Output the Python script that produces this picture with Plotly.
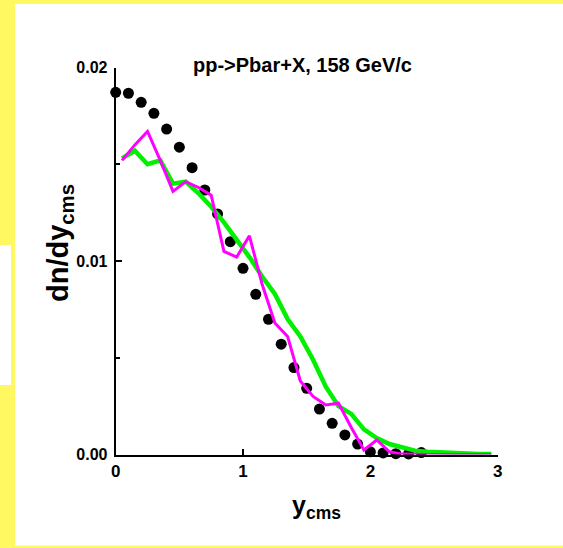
import plotly.graph_objects as go

# Rapidity distribution of antiprotons, pp -> Pbar + X at 158 GeV/c
y_data = [0.0, 0.1, 0.2, 0.3, 0.4, 0.5, 0.6, 0.7, 0.8, 0.9, 1.0, 1.1, 1.2,
          1.3, 1.4, 1.5, 1.6, 1.7, 1.8, 1.9, 2.0, 2.1, 2.2, 2.3, 2.4]
dndy_data = [0.01872, 0.01867, 0.0182, 0.01763, 0.01682, 0.01588, 0.01482,
             0.01367, 0.01243, 0.0110, 0.00962, 0.00828, 0.00699, 0.0057,
             0.00449, 0.00342, 0.00235, 0.00161, 0.00101, 0.00054, 0.00014,
             0.00008, 0.00004, 0.00003, 0.0001]

y_model = [0.05, 0.15, 0.25, 0.35, 0.45, 0.55, 0.65, 0.75, 0.85, 0.95,
           1.05, 1.15, 1.25, 1.35, 1.45, 1.55, 1.65, 1.75, 1.85, 1.95,
           2.05, 2.15, 2.25, 2.35, 2.45, 2.55, 2.65, 2.75, 2.85, 2.95]
dndy_green = [0.0153, 0.0157, 0.0150, 0.0152, 0.0140, 0.0141, 0.0135,
              0.0128, 0.0120, 0.0111, 0.0102, 0.0092, 0.0083, 0.0070,
              0.0061, 0.0049, 0.0035, 0.0025, 0.0021, 0.0013, 0.00085,
              0.00054, 0.00034, 0.0002, 0.00014, 0.0001, 0.00007, 0.00005,
              0.00003, 0.00002]
dndy_magenta = [0.0152, 0.0160, 0.0167, 0.0152, 0.0136, 0.0141, 0.0138,
                0.0134, 0.0105, 0.0102, 0.0113, 0.0088, 0.0068, 0.0061,
                0.0038, 0.0030, 0.00256, 0.00265, 0.0014, 0.00023, 0.00075,
                0.00014, 0.00002, 0.0, 0.0, 0.0, 0.0, 0.0, 0.0, 0.0]

W, H = 563, 548
FONT = "Liberation Sans, Arial, sans-serif"
YELLOW = "rgb(255,248,96)"

fig = go.Figure()
fig.add_trace(go.Scatter(x=y_data, y=dndy_data, mode="markers",
                         marker=dict(color="black", size=11),
                         cliponaxis=False, showlegend=False))
fig.add_trace(go.Scatter(x=y_model, y=dndy_green, mode="lines",
                         line=dict(color="rgb(0,240,0)", width=4.5),
                         cliponaxis=False, showlegend=False))
fig.add_trace(go.Scatter(x=y_model, y=dndy_magenta, mode="lines",
                         line=dict(color="rgb(255,0,255)", width=3),
                         cliponaxis=False, showlegend=False))

def px(v):
    return v / W

def py(v):
    return 1 - v / H

fig.update_layout(
    width=W, height=H, autosize=False,
    margin=dict(l=0, r=0, t=0, b=0, pad=0, autoexpand=False),
    paper_bgcolor="white", plot_bgcolor="white",
    font=dict(family=FONT, color="black"),
    xaxis=dict(domain=[px(115.7), px(497.7)], range=[0, 3],
               tickvals=[0, 1, 2, 3], ticktext=["0", "1", "2", "3"],
               ticks="inside", ticklen=6, tickwidth=2, tickcolor="black",
               showline=True, linecolor="black", linewidth=2,
               showgrid=False, zeroline=False, automargin=False,
               tickfont=dict(family=FONT, size=17, color="black", weight="bold")),
    yaxis=dict(domain=[py(454.5), py(67.5)], range=[0, 0.02],
               tickvals=[0, 0.01, 0.02], ticktext=["0.00", "0.01", "0.02"],
               ticks="inside", ticklen=6, tickwidth=2, tickcolor="black",
               minor=dict(tickvals=[0.005, 0.015], ticks="inside", ticklen=4,
                          tickwidth=2, tickcolor="black"),
               showline=True, linecolor="black", linewidth=2,
               showgrid=False, zeroline=False, automargin=False,
               ticklabelstandoff=3,
               tickfont=dict(family=FONT, size=16, color="black", weight="bold")),
    shapes=[
        dict(type="rect", xref="paper", yref="paper", x0=0, x1=1,
             y0=py(4), y1=1, fillcolor=YELLOW, line_width=0, layer="below"),
        dict(type="rect", xref="paper", yref="paper", x0=0, x1=px(15),
             y0=0, y1=1, fillcolor=YELLOW, line_width=0, layer="below"),
        dict(type="rect", xref="paper", yref="paper", x0=0, x1=1,
             y0=0, y1=py(545.5), fillcolor=YELLOW, line_width=0, layer="below"),
        dict(type="rect", xref="paper", yref="paper", x0=0, x1=px(11),
             y0=py(385), y1=py(245), fillcolor="white", line_width=0,
             layer="below"),
    ],
    annotations=[
        dict(text="pp->Pbar+X, 158 GeV/c", xref="paper", yref="paper",
             x=px(302), y=py(65), xanchor="center", yanchor="middle",
             showarrow=False,
             font=dict(family=FONT, size=20, color="black", weight="bold")),
        dict(text="dn/dy<sub>cms</sub>", xref="paper", yref="paper",
             x=px(60), y=py(243), xanchor="center", yanchor="middle",
             textangle=-90, showarrow=False,
             font=dict(family=FONT, size=29, color="black", weight="bold")),
        dict(text="y<sub>cms</sub>", xref="paper", yref="paper",
             x=px(316), y=py(507), xanchor="center", yanchor="middle",
             showarrow=False,
             font=dict(family=FONT, size=25, color="black", weight="bold")),
    ],
)

fig.write_html("out.html")
